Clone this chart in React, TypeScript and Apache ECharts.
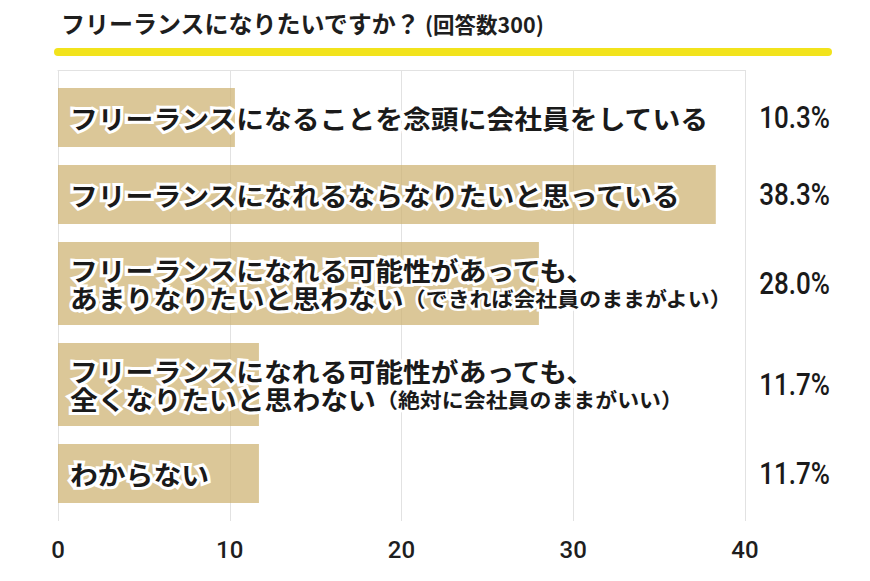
import React, { useEffect, useRef } from "react";
import * as echarts from "echarts";

// ---- data ----
const labelMain: string[] = [
  "フリーランスになることを念頭に会社員をしている",
  "フリーランスになれるならなりたいと思っている",
  "フリーランスになれる可能性があっても、\nあまりなりたいと思わない",
  "フリーランスになれる可能性があっても、\n全くなりたいと思わない",
  "わからない",
];
const labelNote: string[] = ["", "", "（できれば会社員のままがよい）", "（絶対に会社員のままがいい）", ""];
const values: number[] = [10.3, 38.3, 28.0, 11.7, 11.7];
const ticks: number[] = [0, 10, 20, 30, 40];
const titleMain = "フリーランスになりたいですか？";
const titleNote = "(回答数300)";

// ---- layout / style constants ----
const GAP = 18;
const BAR_BASE = 59;
const LINE_STEP = 24;
const BAR_COLOR = "rgba(205,178,112,0.72)";
const JP = "'Noto Sans CJK JP', 'Noto Sans CJK SC', sans-serif";
const NUM = "Roboto, 'Noto Sans', sans-serif";

function buildRows() {
  let y = GAP;
  const rows: number[][] = [];
  labelMain.forEach((m, i) => {
    const lines = m.split("\n").length;
    const h = BAR_BASE + LINE_STEP * (lines - 1);
    rows.push([values[i], y, y + h, i]);
    y = y + h + GAP;
  });
  return { rows, total: y };
}

function richLabel(i: number) {
  const lines = labelMain[i].split("\n");
  return lines
    .map((l, k) => {
      let s = `{a|${l}}`;
      if (k === lines.length - 1 && labelNote[i]) s += `{b|${labelNote[i]}}`;
      return s;
    })
    .join("\n");
}

export default function App() {
  const ref = useRef<HTMLDivElement>(null);
  useEffect(() => {
    if (!ref.current) return;
    const chart = echarts.init(ref.current, null, { renderer: "svg" });
    const { rows, total } = buildRows();
    const maxTick = ticks[ticks.length - 1];
    chart.setOption({
      animation: false,
      backgroundColor: "#ffffff",
      title: {
        left: 56,
        top: 5,
        text: `{a|${titleMain}}{b|${titleNote}}`,
        textStyle: {
          rich: {
            a: { fontSize: 24, fontWeight: "bold", fontFamily: JP, color: "#1e1e1e" },
            b: { fontSize: 21.5, fontWeight: "bold", fontFamily: JP, color: "#1e1e1e", padding: [2, 0, 0, 4] },
          },
        },
      },
      graphic: [
        {
          type: "line",
          shape: { x1: 58, y1: 52, x2: 828, y2: 52 },
          style: { stroke: "#f2e31c", lineWidth: 8, lineCap: "round" },
        },
      ],
      grid: { left: 58, right: 125, top: 70, bottom: 60, containLabel: false },
      xAxis: {
        type: "value",
        min: ticks[0],
        max: maxTick,
        interval: ticks[1] - ticks[0],
        axisLine: { show: true, lineStyle: { color: "#e2e2e2", width: 1 } },
        axisTick: { show: false },
        splitLine: { show: true, lineStyle: { color: "#e2e2e2", width: 1 } },
        axisLabel: {
          margin: 17,
          fontSize: 24,
          fontWeight: 500,
          fontFamily: NUM,
          color: "#1e1e1e",
        },
      },
      yAxis: {
        type: "value",
        inverse: true,
        min: 0,
        max: total,
        show: false,
        splitLine: { show: false },
      },
      series: [
        {
          type: "custom",
          clip: false,
          encode: { x: 0, y: [1, 2] },
          data: rows,
          renderItem: (params: any, api: any) => {
            const i = params.dataIndex;
            const v = api.value(0);
            const a = api.coord([0, api.value(1)]);
            const b = api.coord([v, api.value(2)]);
            const right = api.coord([maxTick, api.value(1)])[0];
            const cy = (a[1] + b[1]) / 2;
            return {
              type: "group",
              children: [
                {
                  type: "rect",
                  shape: { x: a[0], y: a[1], width: b[0] - a[0], height: b[1] - a[1] },
                  style: { fill: BAR_COLOR },
                },
                {
                  type: "text",
                  x: a[0] + 12,
                  y: cy,
                  scaleX: 1.07,
                  style: {
                    text: richLabel(i),
                    x: 0,
                    y: 0,
                    align: "left",
                    verticalAlign: "middle",
                    fontSize: 26,
                    fontWeight: "bold",
                    fontFamily: JP,
                    fill: "#1a1a1a",
                    stroke: "#ffffff",
                    lineWidth: 6,
                    rich: {
                      a: {
                        fontSize: 26,
                        fontWeight: "bold",
                        fontFamily: JP,
                        fill: "#1a1a1a",
                        stroke: "#ffffff",
                        lineWidth: 6,
                        lineHeight: 28,
                      },
                      b: {
                        fontSize: 20.5,
                        fontWeight: "bold",
                        fontFamily: JP,
                        fill: "#1a1a1a",
                        stroke: "#ffffff",
                        lineWidth: 5,
                        lineHeight: 28,
                      },
                    },
                  },
                },
                {
                  type: "text",
                  x: right + 85,
                  y: cy,
                  scaleX: 0.84,
                  style: {
                    text: values[i].toFixed(1) + "%",
                    x: 0,
                    y: 0,
                    align: "right",
                    verticalAlign: "middle",
                    fontSize: 31,
                    fontWeight: 500,
                    fontFamily: NUM,
                    fill: "#1a1a1a",
                  },
                },
              ],
            };
          },
        },
      ],
    });
    return () => chart.dispose();
  }, []);
  return (
    <div
      ref={ref}
      style={{ position: "fixed", left: 0, top: 0, width: 870, height: 581, background: "#fff" }}
    />
  );
}
